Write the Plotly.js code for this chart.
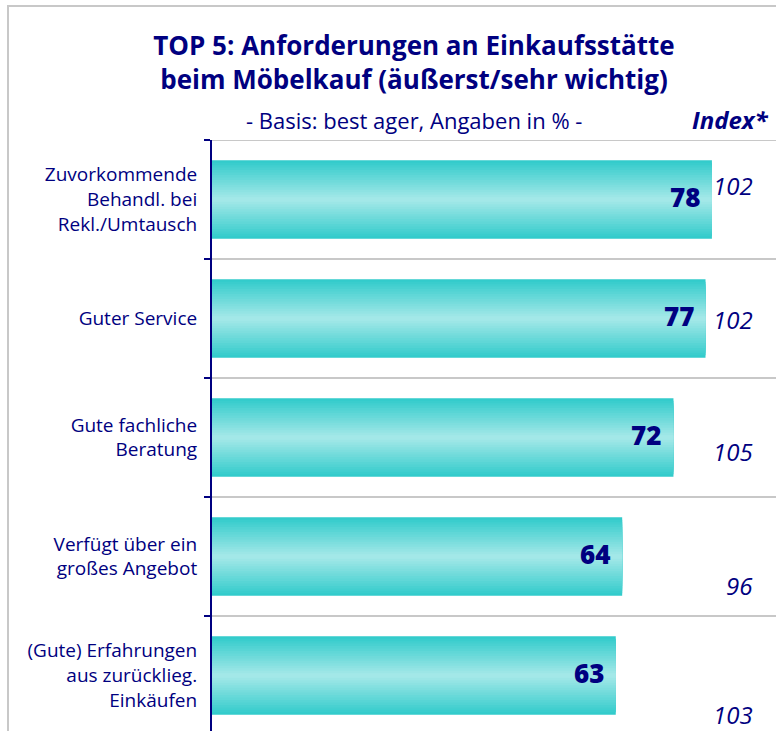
<!DOCTYPE html>
<html><head><meta charset="utf-8">
<script src="https://cdn.plot.ly/plotly-3.0.1.min.js"></script>
<style>
html,body{margin:0;padding:0;overflow:hidden;background:#fff;width:776px;height:731px}
#chart{position:absolute;left:0;top:0;width:776px;height:745px}
#frame{position:absolute;left:7px;top:5px;width:900px;height:900px;border:2px solid #c8c8c8;pointer-events:none}
</style></head><body>
<div id="chart"></div>
<div id="frame"></div>
<script>
// ---- data ----
const categories = [
  "Zuvorkommende<br>Behandl. bei<br>Rekl./Umtausch",
  "Guter Service",
  "Gute fachliche<br>Beratung",
  "Verfügt über ein<br>großes Angebot",
  "(Gute) Erfahrungen<br>aus zurücklieg.<br>Einkäufen"
];
const values = [78, 77, 72, 64, 63];
const indexValues = [102, 102, 105, 96, 103];
const titleLines = ["TOP 5: Anforderungen an Einkaufsstätte", "beim Möbelkauf (äußerst/sehr wichtig)"];
const subtitle = "- Basis: best ager, Angaben in % -";
const indexHeader = "Index*";

// ---- styling / layout ----
const NAVY = "#000080";
const FONT = "'Open Sans', Lato, sans-serif";
const indexYOffsets = [-0.12, 0.01, 0.12, 0.24, 0.33];
const indexX = 84.8;
const edge = [51, 203, 203], center = [163, 232, 232];
const nLayers = 16, maxW = 0.66;

function mix(t){
  const c = edge.map((e,k)=>Math.round(e + (center[k]-e)*t));
  return `rgb(${c[0]},${c[1]},${c[2]})`;
}

const traces = [];
for (let i = 0; i < nLayers; i++) {
  const t = i/(nLayers-1);
  traces.push({
    type: "bar", orientation: "h",
    y: categories, x: values,
    width: maxW*(1 - t*0.94),
    marker: {color: mix(t), line: {width: 0}},
    hoverinfo: "skip", showlegend: false
  });
}

const annotations = [];
values.forEach((v,i)=>{
  annotations.push({x: v, y: i, xref: "x", yref: "y", text: String(v),
    showarrow: false, xanchor: "right", yanchor: "middle", xshift: -10, yshift: 3,
    font: {family: FONT, size: 26, color: NAVY, weight: 800}});
});
indexValues.forEach((v,i)=>{
  annotations.push({x: indexX, y: i + indexYOffsets[i], xref: "x", yref: "y", text: String(v),
    showarrow: false, xanchor: "right", yanchor: "middle",
    font: {family: FONT, size: 24, color: NAVY, style: "italic"}});
});
annotations.push({x: (414-212)/564, y: 1 + (140-120)/595, xref: "paper", yref: "paper",
  text: subtitle, showarrow: false, xanchor: "center", yanchor: "middle",
  font: {family: FONT, size: 22, color: NAVY}});
annotations.push({x: (771-212)/564, y: 1 + (140-120)/595, xref: "paper", yref: "paper",
  text: "<b><i>"+indexHeader+"</i></b>", showarrow: false, xanchor: "right", yanchor: "middle",
  font: {family: FONT, size: 24, color: NAVY}});

const layout = {
  width: 776, height: 745,
  margin: {l: 212, r: 0, t: 140, b: 10, pad: 0},
  paper_bgcolor: "rgba(0,0,0,0)", plot_bgcolor: "rgba(0,0,0,0)",
  barmode: "overlay",
  title: {text: "<b>"+titleLines[0]+"</b><br><b>"+titleLines[1]+"</b>",
    x: 414/776, xref: "container", xanchor: "center",
    y: 1 - 55/745, yref: "container", yanchor: "middle",
    font: {family: FONT, size: 26, color: NAVY}},
  xaxis: {range: [0, 88], visible: false, fixedrange: true},
  yaxis: {type: "category", range: [4.5, -0.5], tickson: "boundaries",
    ticks: "outside", ticklen: 6, tickwidth: 2, tickcolor: NAVY,
    showline: true, linecolor: NAVY, linewidth: 2,
    showgrid: true, gridcolor: "#c8c8c8", gridwidth: 2,
    tickfont: {family: FONT, size: 19, color: NAVY}, ticklabelstandoff: 9,
    fixedrange: true},
  shapes: [{type: "line", xref: "paper", x0: 0, x1: 1, yref: "y", y0: -0.5, y1: -0.5,
    line: {color: "#c8c8c8", width: 2}, layer: "below"}],
  annotations: annotations
};

Plotly.newPlot("chart", traces, layout, {displayModeBar: false, staticPlot: true});
</script>
</body></html>
